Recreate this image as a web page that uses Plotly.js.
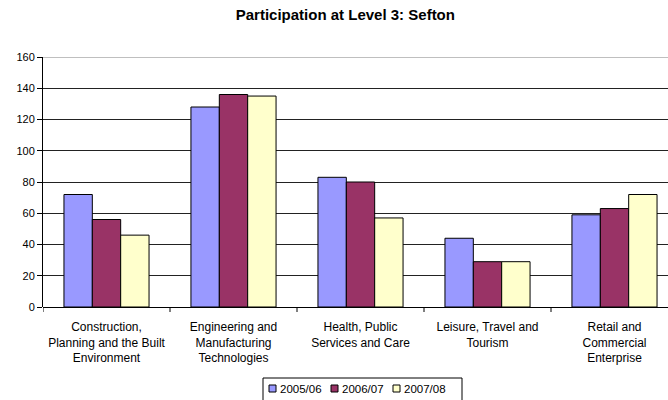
<!DOCTYPE html>
<html>
<head>
<meta charset="utf-8">
<script src="https://cdn.plot.ly/plotly-3.0.1.min.js"></script>
<style>html,body{margin:0;padding:0;background:#fff;}#chart{width:668px;height:400px;}</style>
</head>
<body>
<div id="chart"></div>
<script>
const categories = [
  "Construction,<br>Planning and the Built<br>Environment",
  "Engineering and<br>Manufacturing<br>Technologies",
  "Health, Public<br>Services and Care",
  "Leisure, Travel and<br>Tourism",
  "Retail and<br>Commercial<br>Enterprise"
];
const seriesNames = ["2005/06", "2006/07", "2007/08"];
const v2005 = [72, 128, 83, 44, 59];
const v2006 = [56, 136, 80, 29, 63];
const v2007 = [46, 135, 57, 29, 72];
const colors = ["#9999FF", "#993366", "#FFFFCC"];

// plot area in pixels
const PL = 43, PR = 668, PT = 57, PB = 307;
const px = x => (x - PL) / (PR - PL);
const py = y => (PB - y) / (PB - PT);

const idx = categories.map((_, i) => i);
const traces = [v2005, v2006, v2007].map((vals, k) => ({
  type: "bar",
  name: seriesNames[k],
  x: idx,
  y: vals,
  marker: {color: colors[k], line: {color: "#000", width: 1}},
  hoverinfo: "skip",
  showlegend: false
}));

const FONT = "Liberation Sans, Arial, sans-serif";

// custom compact legend (Excel style)
const shapes = [];
const annotations = [];
shapes.push({type: "rect", xref: "paper", yref: "paper", x0: px(263), x1: px(462), y0: py(378), y1: py(402),
  line: {color: "#000", width: 1}, fillcolor: "#fff", layer: "above"});
seriesNames.forEach((n, k) => {
  const sx = 269 + k * 62;
  shapes.push({type: "rect", xref: "paper", yref: "paper", x0: px(sx), x1: px(sx + 7), y0: py(385), y1: py(392),
    line: {color: "#000", width: 1}, fillcolor: colors[k], layer: "above"});
  annotations.push({xref: "paper", yref: "paper", x: px(sx + 9), y: py(389), xanchor: "left", yanchor: "middle",
    text: n, showarrow: false, font: {size: 11.5, family: FONT, color: "#000"}});
});
// category boundary ticks on x axis
[0, 1, 2, 3, 4].forEach(b => shapes.push({type: "line", xref: "x", yref: "paper", x0: b - 0.5, x1: b - 0.5,
  y0: 0, y1: py(PB + 5), line: {color: "#000", width: 1}}));
// lighter top gridline
shapes.push({type: "line", xref: "paper", yref: "y", x0: 0, x1: 1, y0: 160, y1: 160, line: {color: "#aaa", width: 1.5}});

const layout = {
  width: 668, height: 400,
  margin: {l: PL, r: 668 - PR, t: PT, b: 400 - PB},
  paper_bgcolor: "#fff", plot_bgcolor: "#fff",
  font: {family: FONT, size: 11, color: "#000"},
  title: {text: "<b>Participation at Level 3: Sefton</b>", font: {size: 15, family: FONT, color: "#000"},
          xref: "container", x: 0.517, xanchor: "center", yref: "container", y: 0.962, yanchor: "middle"},
  bargap: 0.33, bargroupgap: 0,
  barmode: "group",
  showlegend: false,
  xaxis: {
    type: "linear",
    range: [-0.5, -0.5 + (PR - PL) / 127],
    tickmode: "array",
    tickvals: idx,
    ticktext: categories,
    ticks: "", showgrid: false, zeroline: false,
    showline: false, automargin: false,
    ticklabelstandoff: 11,
    tickfont: {size: 12, family: FONT},
    fixedrange: true
  },
  yaxis: {
    range: [0, 160], dtick: 20,
    showgrid: true, gridcolor: "#222", gridwidth: 1,
    showline: true, linecolor: "#000", linewidth: 1,
    ticks: "outside", ticklen: 5, tickcolor: "#000",
    zeroline: true, zerolinecolor: "#000", zerolinewidth: 1,
    automargin: false,
    tickfont: {size: 11, family: FONT}, fixedrange: true
  },
  shapes: shapes,
  annotations: annotations
};

Plotly.newPlot("chart", traces, layout, {staticPlot: true, displayModeBar: false});
</script>
</body>
</html>
